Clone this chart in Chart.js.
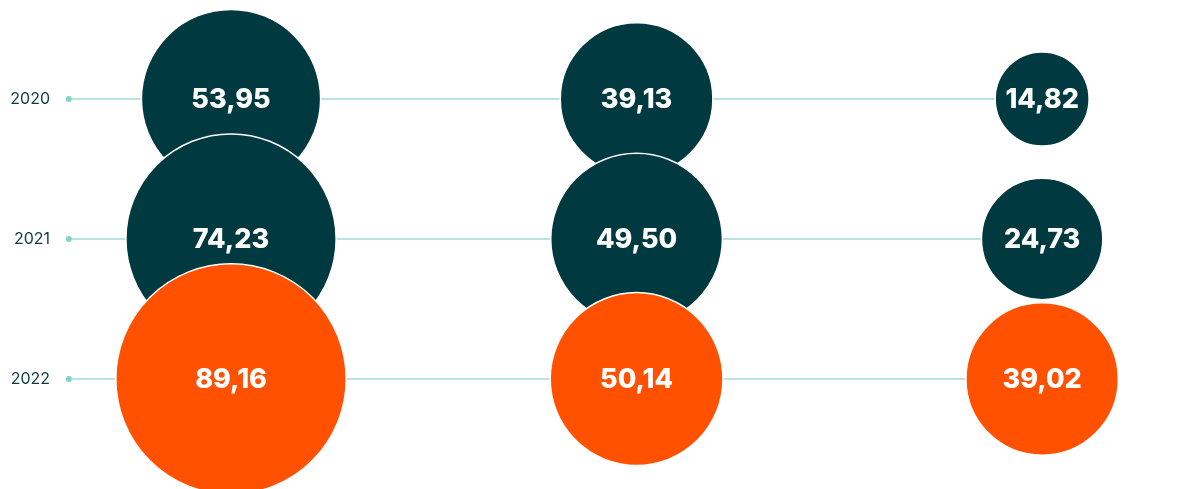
<!DOCTYPE html>
<html>
<head>
<meta charset="utf-8">
<title>Entwicklung 2020–2022</title>
<script src="https://cdn.jsdelivr.net/npm/chart.js@4.4.1/dist/chart.umd.min.js"></script>
<style>
  html, body { margin: 0; padding: 0; background: #fff; }
  #chart { display: block; }
</style>
</head>
<body>
<canvas id="chart" width="1193" height="489"></canvas>
<script>
// rows (years) and the three value columns
const years = ['2020', '2021', '2022'];
const columns = [0, 1, 2];
const values2020 = [53.95, 39.13, 14.82];
const values2021 = [74.23, 49.50, 24.73];
const values2022 = [89.16, 50.14, 39.02];

const rowValues = [values2020, values2021, values2022];
const rowColors = ['#003a40', '#003a40', '#ff5100'];

// bubble area grows with the value
const radiusFor = v => 12.2 * Math.sqrt(v);

const bubbleData = [];
const bubbleColors = [];
rowValues.forEach((vals, row) => {
    vals.forEach((v, i) => {
        bubbleData.push({ x: columns[i], y: row, r: radiusFor(v), v: v });
        bubbleColors.push(rowColors[row]);
    });
});

// one thin guide line per year, starting with a small dot
const lineDatasets = years.map((y, row) => ({
    type: 'line',
    data: [{ x: -0.4, y: row }, { x: columns[columns.length - 1], y: row }],
    borderColor: '#a3dbd7',
    borderWidth: 1.5,
    pointRadius: [3, 0],
    pointBackgroundColor: '#7fd4cd',
    pointBorderWidth: 0,
    order: 2,
    clip: false
}));

const formatValue = v => v.toFixed(2).replace('.', ',');

const valueLabels = {
    id: 'valueLabels',
    afterDatasetsDraw(chart) {
        const ctx = chart.ctx;
        const meta = chart.getDatasetMeta(chart.data.datasets.length - 1);
        ctx.save();
        ctx.fillStyle = '#ffffff';
        ctx.font = '800 27px Inter, Roboto, sans-serif';
        ctx.textAlign = 'center';
        ctx.textBaseline = 'middle';
        meta.data.forEach((el, i) => {
            ctx.fillText(formatValue(bubbleData[i].v), el.x, el.y + 1);
        });
        ctx.restore();
    }
};

new Chart(document.getElementById('chart'), {
    type: 'bubble',
    data: {
        datasets: [
            ...lineDatasets,
            {
                data: bubbleData,
                backgroundColor: bubbleColors,
                borderColor: '#ffffff',
                borderWidth: 1.5,
                order: 1,
                clip: false
            }
        ]
    },
    options: {
        responsive: false,
        animation: false,
        events: [],
        layout: { padding: 0, autoPadding: false },
        plugins: {
            legend: { display: false },
            tooltip: { enabled: false }
        },
        scales: {
            x: {
                type: 'linear',
                display: false,
                min: -0.4217,
                max: 2.372
            },
            y: {
                type: 'linear',
                reverse: true,
                min: -0.7071,
                max: 2.7857,
                grid: { display: false, drawTicks: false },
                border: { display: false },
                afterFit: s => {
                    s.width = 60;
                    s.paddingTop = 0;
                    s.paddingBottom = 0;
                },
                afterBuildTicks: s => { s.ticks = years.map((y, i) => ({ value: i })); },
                ticks: {
                    padding: 10,
                    color: '#0e3b43',
                    font: { family: 'Inter, Roboto, sans-serif', size: 16 },
                    callback: v => years[v]
                }
            }
        }
    },
    plugins: [valueLabels]
});
</script>
</body>
</html>
